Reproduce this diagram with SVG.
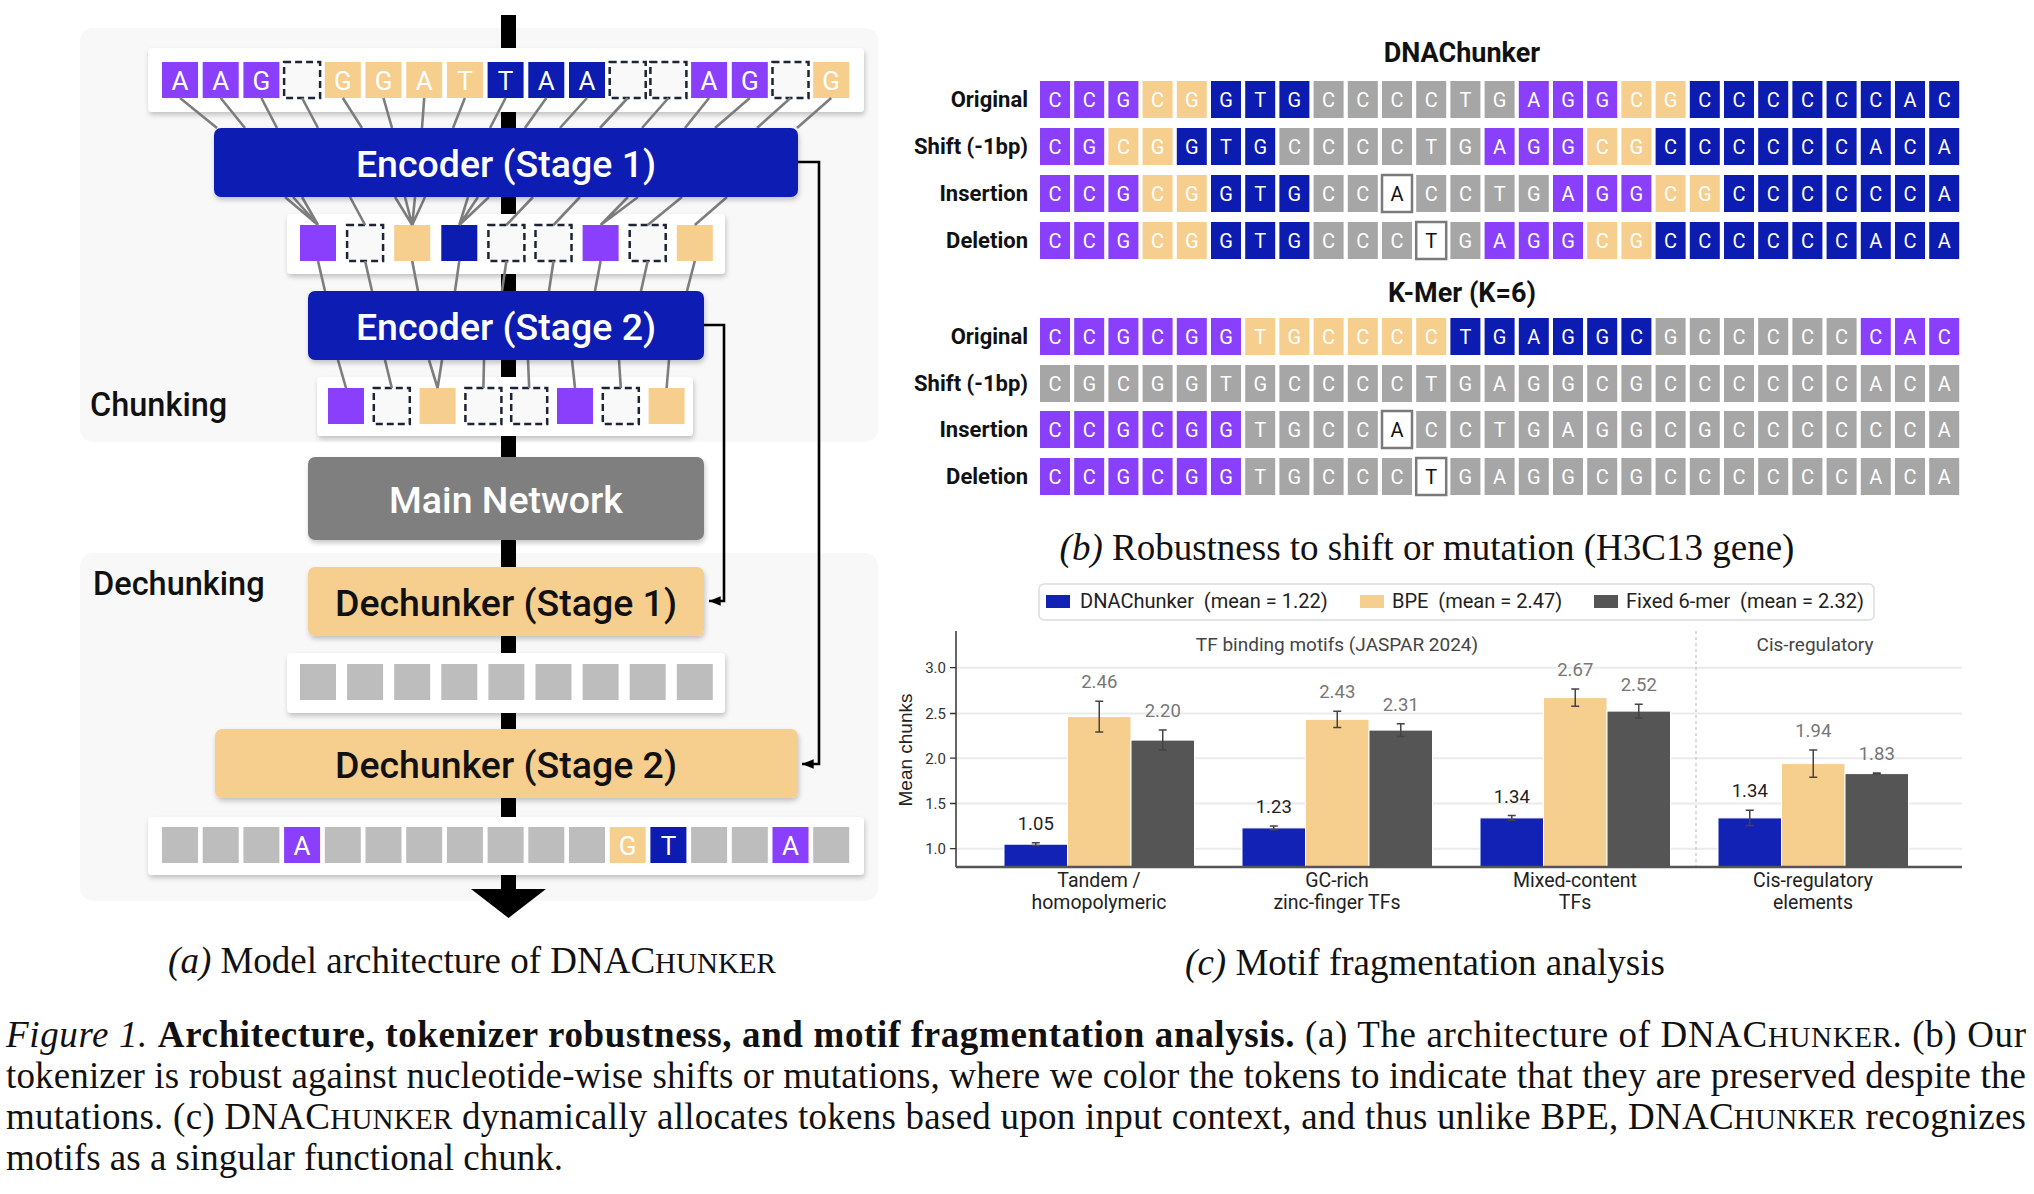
<svg xmlns="http://www.w3.org/2000/svg" width="2034" height="1194" viewBox="0 0 2034 1194">
<defs>
<style>
.sans{font-family:Roboto,"Liberation Sans",sans-serif}
.serif{font-family:"Liberation Serif","Times New Roman",serif}
.bgp{fill:#f8f8f8}
.wbox{fill:#fff;filter:url(#sh)}
.tk rect{width:36px;height:36px}
.p{fill:#8a3ffc}.o{fill:#f6ce8e}.b{fill:#0c1bb0}.g{fill:#a6a6a6}.lg{fill:#bdbdbd}
.d{fill:#f9f9f9;stroke:#1c2436;stroke-width:2.5;stroke-dasharray:7 4}
.w{fill:#fff;stroke:#7a7a7a;stroke-width:2.5}
.enc{fill:#0b1db2;filter:url(#sh)}
.dec{fill:#f6ce8e;filter:url(#sh)}
.mn{fill:#7f7f7f;filter:url(#sh)}
.lk{fill:none;stroke:#7d7d7d;stroke-width:2.6}
.skip{fill:none;stroke:#000;stroke-width:2.6;marker-end:url(#ah)}
.nt{font-size:37.5px;font-weight:500;text-anchor:middle}
.tl{font-size:26px;fill:#fff;text-anchor:middle}
.sec{font-size:32.5px;font-weight:500;fill:#111}
.c rect{width:30px;height:37px}
.ct{font-size:20px;fill:#fff;text-anchor:middle}
.ctb{fill:#111}
.lab{font-size:22px;font-weight:700;text-anchor:end;fill:#111}
.ttl{font-size:27px;font-weight:700;text-anchor:middle;fill:#111}
.cap{font-size:37px;fill:#111}
.tick{font-size:15px;fill:#333;text-anchor:end}
.vl{font-size:18.5px;text-anchor:middle}
.xl{font-size:19.5px;fill:#222;text-anchor:middle}
</style>
<filter id="sh" x="-10%" y="-20%" width="120%" height="160%"><feDropShadow dx="1" dy="3" stdDeviation="2.5" flood-color="#000" flood-opacity="0.22"/></filter>
<marker id="ah" viewBox="0 0 10 10" refX="10" refY="5" markerWidth="4.5" markerHeight="4.5" orient="auto"><path d="M0,1 L10,5 L0,9 z" fill="#000"/></marker>
</defs>
<rect width="2034" height="1194" fill="#fff"/>

<!-- ============ PANEL A ============ -->
<g id="panel-a">
<rect class="bgp" x="80" y="28" width="798" height="414" rx="13"/>
<rect class="bgp" x="80" y="553" width="798" height="348" rx="13"/>
<rect id="spine" x="501" y="15" width="15" height="876" fill="#000"/>
<text class="sans sec" x="90" y="416">Chunking</text>
<text class="sans sec" x="93" y="595">Dechunking</text>

<g id="input-row">
<rect class="wbox" x="148" y="48" width="716" height="64" rx="4"/>
<g class="tk" transform="translate(0,62)">
<rect class="p" x="162"/><rect class="p" x="202.7"/><rect class="p" x="243.4"/><rect class="d" x="284.1"/><rect class="o" x="324.8"/><rect class="o" x="365.5"/><rect class="o" x="406.2"/><rect class="o" x="446.9"/><rect class="b" x="487.6"/><rect class="b" x="528.3"/><rect class="b" x="569"/><rect class="d" x="609.7"/><rect class="d" x="650.4"/><rect class="p" x="691.1"/><rect class="p" x="731.8"/><rect class="d" x="772.5"/><rect class="o" x="813.2"/>
</g>
<text class="sans tl" y="90" x="180 220.7 261.4 342.8 383.5 424.2 464.9 505.6 546.3 587 709.1 749.8 831.2">AAGGGATTAAAGG</text>
</g>

<g id="row2">
<rect class="wbox" x="287" y="214" width="438" height="60" rx="4"/>
<g class="tk" transform="translate(0,225)">
<rect class="p" x="300"/><rect class="d" x="347.1"/><rect class="o" x="394.2"/><rect class="b" x="441.3"/><rect class="d" x="488.4"/><rect class="d" x="535.5"/><rect class="p" x="582.6"/><rect class="d" x="629.7"/><rect class="o" x="676.8"/>
</g>
</g>

<g id="row3">
<rect class="wbox" x="317" y="377" width="376" height="59" rx="4"/>
<g class="tk" transform="translate(0,388)">
<rect class="p" x="328"/><rect class="d" x="373.8"/><rect class="o" x="419.6"/><rect class="d" x="465.4"/><rect class="d" x="511.2"/><rect class="p" x="557"/><rect class="d" x="602.8"/><rect class="o" x="648.6"/>
</g>
</g>

<g id="row-gray">
<rect class="wbox" x="287" y="653" width="438" height="60" rx="4"/>
<g class="tk" transform="translate(0,664)">
<rect class="lg" x="300"/><rect class="lg" x="347.1"/><rect class="lg" x="394.2"/><rect class="lg" x="441.3"/><rect class="lg" x="488.4"/><rect class="lg" x="535.5"/><rect class="lg" x="582.6"/><rect class="lg" x="629.7"/><rect class="lg" x="676.8"/>
</g>
</g>

<g id="output-row">
<rect class="wbox" x="148" y="817" width="716" height="58" rx="4"/>
<g class="tk" transform="translate(0,827)">
<rect class="lg" x="162"/><rect class="lg" x="202.7"/><rect class="lg" x="243.4"/><rect class="p" x="284.1"/><rect class="lg" x="324.8"/><rect class="lg" x="365.5"/><rect class="lg" x="406.2"/><rect class="lg" x="446.9"/><rect class="lg" x="487.6"/><rect class="lg" x="528.3"/><rect class="lg" x="569"/><rect class="o" x="609.7"/><rect class="b" x="650.4"/><rect class="lg" x="691.1"/><rect class="lg" x="731.8"/><rect class="p" x="772.5"/><rect class="lg" x="813.2"/>
</g>
<text class="sans tl" y="855" x="302.1 627.7 668.4 790.5">AGTA</text>
</g>

<g id="connectors">
<path class="lk" d="M180 98L217 128M220.7 98L245 128M261.4 98L277 128M302.1 98L318 128M342.8 98L362 128M383.5 98L392 128M424.2 98L422 128M464.9 98L453 128M505.6 98L490 128M546.3 98L525 128M587 98L560 128M627.7 98L600 128M668.4 98L642 128M709.1 98L685 128M749.8 98L715 128M790.5 98L757 128M831.2 98L797 128"/>
<path class="lk" d="M285 197L318 225M293 197L318 225M302 197L318 225M350 197L365.1 225M395 197L412.2 225M405 197L412.2 225M415 197L412.2 225M425 197L412.2 225M468 197L459.3 225M478 197L459.3 225M489 197L459.3 225M533 197L506.4 225M580 197L553.5 225M628 197L600.6 225M638 197L600.6 225M682 197L647.7 225M727 197L694.8 225"/>
<path class="lk" d="M318 261L325 291M365.1 261L372 291M412.2 261L418 291M459.3 261L455 291M506.4 261L502 291M553.5 261L549 291M600.6 261L595 291M647.7 261L641 291M694.8 261L687 291"/>
<path class="lk" d="M338 360L346 388M385 360L391.8 388M429 360L437.6 388M442 360L437.6 388M484 360L483.4 388M528 360L529.2 388M572 360L575 388M619 360L620.8 388M669 360L666.6 388"/>
<path class="skip" d="M798 162H819V764H802"/>
<path class="skip" d="M704 325H724V601H709"/>
<polygon points="471,889 546,889 508.5,918" fill="#000"/>
</g>

<g id="encoder1"><rect class="enc" x="214" y="128" width="584" height="69" rx="7"/><text class="sans nt" x="506" y="176.5" fill="#fff">Encoder (Stage 1)</text></g>
<g id="encoder2"><rect class="enc" x="308" y="291" width="396" height="69" rx="7"/><text class="sans nt" x="506" y="339.5" fill="#fff">Encoder (Stage 2)</text></g>
<g id="main-network"><rect class="mn" x="308" y="457" width="396" height="83" rx="7"/><text class="sans nt" x="506" y="512.5" fill="#fff">Main Network</text></g>
<g id="dechunker1"><rect class="dec" x="308" y="567" width="396" height="69" rx="7"/><text class="sans nt" x="506" y="615.5" fill="#111">Dechunker (Stage 1)</text></g>
<g id="dechunker2"><rect class="dec" x="215" y="729" width="583" height="69" rx="7"/><text class="sans nt" x="506" y="777.5" fill="#111">Dechunker (Stage 2)</text></g>
</g>

<!-- ============ PANEL B ============ -->
<g id="panel-b" class="sans">
<text class="ttl" x="1462" y="62">DNAChunker</text>
<g class="lab">
<text x="1028" y="107">Original</text>
<text x="1028" y="154">Shift (-1bp)</text>
<text x="1028" y="201">Insertion</text>
<text x="1028" y="248">Deletion</text>
</g>
<g id="dna-original" class="c" transform="translate(0,81)">
<rect class="p" x="1040"/><rect class="p" x="1074.2"/><rect class="p" x="1108.4"/><rect class="o" x="1142.6"/><rect class="o" x="1176.8"/><rect class="b" x="1211"/><rect class="b" x="1245.2"/><rect class="b" x="1279.4"/><rect class="g" x="1313.6"/><rect class="g" x="1347.8"/><rect class="g" x="1382"/><rect class="g" x="1416.2"/><rect class="g" x="1450.4"/><rect class="g" x="1484.6"/><rect class="p" x="1518.8"/><rect class="p" x="1553"/><rect class="p" x="1587.2"/><rect class="o" x="1621.4"/><rect class="o" x="1655.6"/><rect class="b" x="1689.8"/><rect class="b" x="1724"/><rect class="b" x="1758.2"/><rect class="b" x="1792.4"/><rect class="b" x="1826.6"/><rect class="b" x="1860.8"/><rect class="b" x="1895"/><rect class="b" x="1929.2"/>
</g>
<g id="dna-shift" class="c" transform="translate(0,128)">
<rect class="p" x="1040"/><rect class="p" x="1074.2"/><rect class="o" x="1108.4"/><rect class="o" x="1142.6"/><rect class="b" x="1176.8"/><rect class="b" x="1211"/><rect class="b" x="1245.2"/><rect class="g" x="1279.4"/><rect class="g" x="1313.6"/><rect class="g" x="1347.8"/><rect class="g" x="1382"/><rect class="g" x="1416.2"/><rect class="g" x="1450.4"/><rect class="p" x="1484.6"/><rect class="p" x="1518.8"/><rect class="p" x="1553"/><rect class="o" x="1587.2"/><rect class="o" x="1621.4"/><rect class="b" x="1655.6"/><rect class="b" x="1689.8"/><rect class="b" x="1724"/><rect class="b" x="1758.2"/><rect class="b" x="1792.4"/><rect class="b" x="1826.6"/><rect class="b" x="1860.8"/><rect class="b" x="1895"/><rect class="b" x="1929.2"/>
</g>
<g id="dna-insertion" class="c" transform="translate(0,175)">
<rect class="p" x="1040"/><rect class="p" x="1074.2"/><rect class="p" x="1108.4"/><rect class="o" x="1142.6"/><rect class="o" x="1176.8"/><rect class="b" x="1211"/><rect class="b" x="1245.2"/><rect class="b" x="1279.4"/><rect class="g" x="1313.6"/><rect class="g" x="1347.8"/><rect class="w" x="1382"/><rect class="g" x="1416.2"/><rect class="g" x="1450.4"/><rect class="g" x="1484.6"/><rect class="g" x="1518.8"/><rect class="p" x="1553"/><rect class="p" x="1587.2"/><rect class="p" x="1621.4"/><rect class="o" x="1655.6"/><rect class="o" x="1689.8"/><rect class="b" x="1724"/><rect class="b" x="1758.2"/><rect class="b" x="1792.4"/><rect class="b" x="1826.6"/><rect class="b" x="1860.8"/><rect class="b" x="1895"/><rect class="b" x="1929.2"/>
</g>
<g id="dna-deletion" class="c" transform="translate(0,222)">
<rect class="p" x="1040"/><rect class="p" x="1074.2"/><rect class="p" x="1108.4"/><rect class="o" x="1142.6"/><rect class="o" x="1176.8"/><rect class="b" x="1211"/><rect class="b" x="1245.2"/><rect class="b" x="1279.4"/><rect class="g" x="1313.6"/><rect class="g" x="1347.8"/><rect class="g" x="1382"/><rect class="w" x="1416.2"/><rect class="g" x="1450.4"/><rect class="p" x="1484.6"/><rect class="p" x="1518.8"/><rect class="p" x="1553"/><rect class="o" x="1587.2"/><rect class="o" x="1621.4"/><rect class="b" x="1655.6"/><rect class="b" x="1689.8"/><rect class="b" x="1724"/><rect class="b" x="1758.2"/><rect class="b" x="1792.4"/><rect class="b" x="1826.6"/><rect class="b" x="1860.8"/><rect class="b" x="1895"/><rect class="b" x="1929.2"/>
</g>
<text class="ct" y="106.5" x="1055 1089.2 1123.4 1157.6 1191.8 1226 1260.2 1294.4 1328.6 1362.8 1397 1431.2 1465.4 1499.6 1533.8 1568 1602.2 1636.4 1670.6 1704.8 1739 1773.2 1807.4 1841.6 1875.8 1910 1944.2">CCGCGGTGCCCCTGAGGCGCCCCCCAC</text>
<text class="ct" y="153.5" x="1055 1089.2 1123.4 1157.6 1191.8 1226 1260.2 1294.4 1328.6 1362.8 1397 1431.2 1465.4 1499.6 1533.8 1568 1602.2 1636.4 1670.6 1704.8 1739 1773.2 1807.4 1841.6 1875.8 1910 1944.2">CGCGGTGCCCCTGAGGCGCCCCCCACA</text>
<text class="ct" y="200.5"><tspan x="1055 1089.2 1123.4 1157.6 1191.8 1226 1260.2 1294.4 1328.6 1362.8">CCGCGGTGCC</tspan><tspan class="ctb" x="1397">A</tspan><tspan x="1431.2 1465.4 1499.6 1533.8 1568 1602.2 1636.4 1670.6 1704.8 1739 1773.2 1807.4 1841.6 1875.8 1910 1944.2">CCTGAGGCGCCCCCCA</tspan></text>
<text class="ct" y="247.5"><tspan x="1055 1089.2 1123.4 1157.6 1191.8 1226 1260.2 1294.4 1328.6 1362.8 1397">CCGCGGTGCCC</tspan><tspan class="ctb" x="1431.2">T</tspan><tspan x="1465.4 1499.6 1533.8 1568 1602.2 1636.4 1670.6 1704.8 1739 1773.2 1807.4 1841.6 1875.8 1910 1944.2">GAGGCGCCCCCCACA</tspan></text>

<text class="ttl" x="1462" y="302">K-Mer (K=6)</text>
<g class="lab">
<text x="1028" y="344">Original</text>
<text x="1028" y="391">Shift (-1bp)</text>
<text x="1028" y="437">Insertion</text>
<text x="1028" y="484">Deletion</text>
</g>
<g id="kmer-original" class="c" transform="translate(0,318)">
<rect class="p" x="1040"/><rect class="p" x="1074.2"/><rect class="p" x="1108.4"/><rect class="p" x="1142.6"/><rect class="p" x="1176.8"/><rect class="p" x="1211"/><rect class="o" x="1245.2"/><rect class="o" x="1279.4"/><rect class="o" x="1313.6"/><rect class="o" x="1347.8"/><rect class="o" x="1382"/><rect class="o" x="1416.2"/><rect class="b" x="1450.4"/><rect class="b" x="1484.6"/><rect class="b" x="1518.8"/><rect class="b" x="1553"/><rect class="b" x="1587.2"/><rect class="b" x="1621.4"/><rect class="g" x="1655.6"/><rect class="g" x="1689.8"/><rect class="g" x="1724"/><rect class="g" x="1758.2"/><rect class="g" x="1792.4"/><rect class="g" x="1826.6"/><rect class="p" x="1860.8"/><rect class="p" x="1895"/><rect class="p" x="1929.2"/>
</g>
<g id="kmer-shift" class="c" transform="translate(0,365)">
<rect class="g" x="1040"/><rect class="g" x="1074.2"/><rect class="g" x="1108.4"/><rect class="g" x="1142.6"/><rect class="g" x="1176.8"/><rect class="g" x="1211"/><rect class="g" x="1245.2"/><rect class="g" x="1279.4"/><rect class="g" x="1313.6"/><rect class="g" x="1347.8"/><rect class="g" x="1382"/><rect class="g" x="1416.2"/><rect class="g" x="1450.4"/><rect class="g" x="1484.6"/><rect class="g" x="1518.8"/><rect class="g" x="1553"/><rect class="g" x="1587.2"/><rect class="g" x="1621.4"/><rect class="g" x="1655.6"/><rect class="g" x="1689.8"/><rect class="g" x="1724"/><rect class="g" x="1758.2"/><rect class="g" x="1792.4"/><rect class="g" x="1826.6"/><rect class="g" x="1860.8"/><rect class="g" x="1895"/><rect class="g" x="1929.2"/>
</g>
<g id="kmer-insertion" class="c" transform="translate(0,411)">
<rect class="p" x="1040"/><rect class="p" x="1074.2"/><rect class="p" x="1108.4"/><rect class="p" x="1142.6"/><rect class="p" x="1176.8"/><rect class="p" x="1211"/><rect class="g" x="1245.2"/><rect class="g" x="1279.4"/><rect class="g" x="1313.6"/><rect class="g" x="1347.8"/><rect class="w" x="1382"/><rect class="g" x="1416.2"/><rect class="g" x="1450.4"/><rect class="g" x="1484.6"/><rect class="g" x="1518.8"/><rect class="g" x="1553"/><rect class="g" x="1587.2"/><rect class="g" x="1621.4"/><rect class="g" x="1655.6"/><rect class="g" x="1689.8"/><rect class="g" x="1724"/><rect class="g" x="1758.2"/><rect class="g" x="1792.4"/><rect class="g" x="1826.6"/><rect class="g" x="1860.8"/><rect class="g" x="1895"/><rect class="g" x="1929.2"/>
</g>
<g id="kmer-deletion" class="c" transform="translate(0,458)">
<rect class="p" x="1040"/><rect class="p" x="1074.2"/><rect class="p" x="1108.4"/><rect class="p" x="1142.6"/><rect class="p" x="1176.8"/><rect class="p" x="1211"/><rect class="g" x="1245.2"/><rect class="g" x="1279.4"/><rect class="g" x="1313.6"/><rect class="g" x="1347.8"/><rect class="g" x="1382"/><rect class="w" x="1416.2"/><rect class="g" x="1450.4"/><rect class="g" x="1484.6"/><rect class="g" x="1518.8"/><rect class="g" x="1553"/><rect class="g" x="1587.2"/><rect class="g" x="1621.4"/><rect class="g" x="1655.6"/><rect class="g" x="1689.8"/><rect class="g" x="1724"/><rect class="g" x="1758.2"/><rect class="g" x="1792.4"/><rect class="g" x="1826.6"/><rect class="g" x="1860.8"/><rect class="g" x="1895"/><rect class="g" x="1929.2"/>
</g>
<text class="ct" y="343.5" x="1055 1089.2 1123.4 1157.6 1191.8 1226 1260.2 1294.4 1328.6 1362.8 1397 1431.2 1465.4 1499.6 1533.8 1568 1602.2 1636.4 1670.6 1704.8 1739 1773.2 1807.4 1841.6 1875.8 1910 1944.2">CCGCGGTGCCCCTGAGGCGCCCCCCAC</text>
<text class="ct" y="390.5" x="1055 1089.2 1123.4 1157.6 1191.8 1226 1260.2 1294.4 1328.6 1362.8 1397 1431.2 1465.4 1499.6 1533.8 1568 1602.2 1636.4 1670.6 1704.8 1739 1773.2 1807.4 1841.6 1875.8 1910 1944.2">CGCGGTGCCCCTGAGGCGCCCCCCACA</text>
<text class="ct" y="436.5"><tspan x="1055 1089.2 1123.4 1157.6 1191.8 1226 1260.2 1294.4 1328.6 1362.8">CCGCGGTGCC</tspan><tspan class="ctb" x="1397">A</tspan><tspan x="1431.2 1465.4 1499.6 1533.8 1568 1602.2 1636.4 1670.6 1704.8 1739 1773.2 1807.4 1841.6 1875.8 1910 1944.2">CCTGAGGCGCCCCCCA</tspan></text>
<text class="ct" y="483.5"><tspan x="1055 1089.2 1123.4 1157.6 1191.8 1226 1260.2 1294.4 1328.6 1362.8 1397">CCGCGGTGCCC</tspan><tspan class="ctb" x="1431.2">T</tspan><tspan x="1465.4 1499.6 1533.8 1568 1602.2 1636.4 1670.6 1704.8 1739 1773.2 1807.4 1841.6 1875.8 1910 1944.2">GAGGCGCCCCCCACA</tspan></text>
</g>

<!-- ============ PANEL C ============ -->
<g id="panel-c" class="sans">
<g id="legend">
<rect x="1039" y="584" width="835" height="36" rx="5" fill="#fff" stroke="#dcdcdc" stroke-width="1.5"/>
<rect x="1046" y="595" width="24" height="13" fill="#1222b5"/>
<rect x="1360" y="595" width="24" height="13" fill="#f6ce8e"/>
<rect x="1594" y="595" width="24" height="13" fill="#555"/>
<g font-size="20" fill="#222">
<text x="1080" y="608" xml:space="preserve">DNAChunker  (mean = 1.22)</text>
<text x="1392" y="608" xml:space="preserve">BPE  (mean = 2.47)</text>
<text x="1626" y="608" xml:space="preserve">Fixed 6-mer  (mean = 2.32)</text>
</g>
</g>
<g id="grid" stroke="#ebebeb" stroke-width="2">
<path d="M956 667.7H1962M956 713.5H1962M956 758.2H1962M956 803.5H1962M956 848.7H1962"/>
</g>
<path d="M1696 631V867" stroke="#c4c4c4" stroke-width="1.2" stroke-dasharray="3 3"/>
<g id="ticks">
<path d="M950 667.7H956M950 713.5H956M950 758.2H956M950 803.5H956M950 848.7H956" stroke="#333" stroke-width="1.3"/>
<text class="tick" x="946" y="673">3.0</text>
<text class="tick" x="946" y="718.5">2.5</text>
<text class="tick" x="946" y="763.5">2.0</text>
<text class="tick" x="946" y="808.5">1.5</text>
<text class="tick" x="946" y="854">1.0</text>
</g>
<text x="912" y="750" font-size="19" fill="#222" text-anchor="middle" transform="rotate(-90 912 750)" font-family="'Liberation Sans',Arial,sans-serif">Mean chunks</text>
<text x="1337" y="651" font-size="19" fill="#444" text-anchor="middle">TF binding motifs (JASPAR 2024)</text>
<text x="1815" y="651" font-size="19" fill="#444" text-anchor="middle">Cis-regulatory</text>
<g id="bars" stroke="#fff" stroke-width="1">
<g fill="#1222b5">
<rect x="1004" y="844.2" width="63.5" height="22.8"/>
<rect x="1242" y="827.9" width="63.5" height="39.1"/>
<rect x="1480" y="817.9" width="63.5" height="49.1"/>
<rect x="1718" y="817.9" width="63.5" height="49.1"/>
</g>
<g fill="#f6ce8e">
<rect x="1067.5" y="716.6" width="63.5" height="150.4"/>
<rect x="1305.5" y="719.3" width="63.5" height="147.7"/>
<rect x="1543.5" y="697.6" width="63.5" height="169.4"/>
<rect x="1781.5" y="763.6" width="63.5" height="103.4"/>
</g>
<g fill="#555">
<rect x="1131" y="740.1" width="63.5" height="126.9"/>
<rect x="1369" y="730.1" width="63.5" height="136.9"/>
<rect x="1607" y="711.1" width="63.5" height="155.9"/>
<rect x="1845" y="773.6" width="63.5" height="93.4"/>
</g>
</g>
<path id="errbars" fill="none" stroke="#444" stroke-width="1.5" d="M1035.75 842.8V845.6M1031.75 842.8h8M1031.75 845.6h8M1099.25 701.2V732M1095.25 701.2h8M1095.25 732h8M1162.75 730.1V750.1M1158.75 730.1h8M1158.75 750.1h8M1273.75 826.1V829.7M1269.75 826.1h8M1269.75 829.7h8M1337.25 711.2V727.4M1333.25 711.2h8M1333.25 727.4h8M1400.75 723.8V736.4M1396.75 723.8h8M1396.75 736.4h8M1511.75 815.6V820.2M1507.75 815.6h8M1507.75 820.2h8M1575.25 689V706.2M1571.25 689h8M1571.25 706.2h8M1638.75 704.3V717.9M1634.75 704.3h8M1634.75 717.9h8M1749.75 810.2V825.6M1745.75 810.2h8M1745.75 825.6h8M1813.25 750V777.2M1809.25 750h8M1809.25 777.2h8M1876.75 773.1V774.1M1872.75 773.1h8M1872.75 774.1h8"/>
<path d="M956 631V867" stroke="#333" stroke-width="1.5"/>
<path d="M956 867H1962" stroke="#555" stroke-width="2.5"/>
<g id="values" class="vl">
<g fill="#222">
<text x="1035.75" y="829.8">1.05</text>
<text x="1273.75" y="813.1">1.23</text>
<text x="1511.75" y="802.6">1.34</text>
<text x="1749.75" y="797.2">1.34</text>
</g>
<g fill="#777">
<text x="1099.25" y="688.2">2.46</text>
<text x="1162.75" y="717.1">2.20</text>
<text x="1337.25" y="698.2">2.43</text>
<text x="1400.75" y="710.8">2.31</text>
<text x="1575.25" y="676">2.67</text>
<text x="1638.75" y="691.3">2.52</text>
<text x="1813.25" y="737">1.94</text>
<text x="1876.75" y="760">1.83</text>
</g>
</g>
<g id="xlabels" class="xl">
<text x="1099" y="887">Tandem /</text><text x="1099" y="909">homopolymeric</text>
<text x="1337" y="887">GC-rich</text><text x="1337" y="909">zinc-finger TFs</text>
<text x="1575" y="887">Mixed-content</text><text x="1575" y="909">TFs</text>
<text x="1813" y="887">Cis-regulatory</text><text x="1813" y="909">elements</text>
</g>
</g>

<!-- ============ CAPTIONS ============ -->
<g id="captions" class="serif cap">
<text x="472" y="973" text-anchor="middle"><tspan font-style="italic">(a)</tspan> Model architecture of DNAC<tspan font-size="29">HUNKER</tspan></text>
<text x="1427" y="560" text-anchor="middle"><tspan font-style="italic">(b)</tspan> Robustness to shift or mutation (H3C13 gene)</text>
<text x="1425" y="975" text-anchor="middle"><tspan font-style="italic">(c)</tspan> Motif fragmentation analysis</text>
<text x="6" y="1047" textLength="2020" lengthAdjust="spacing"><tspan font-style="italic">Figure 1.</tspan> <tspan font-weight="bold">Architecture, tokenizer robustness, and motif fragmentation analysis.</tspan> (a) The architecture of DNAC<tspan font-size="29">HUNKER</tspan>. (b) Our</text>
<text x="6" y="1088" textLength="2020" lengthAdjust="spacing">tokenizer is robust against nucleotide-wise shifts or mutations, where we color the tokens to indicate that they are preserved despite the</text>
<text x="6" y="1129" textLength="2020" lengthAdjust="spacing">mutations. (c) DNAC<tspan font-size="29">HUNKER</tspan> dynamically allocates tokens based upon input context, and thus unlike BPE, DNAC<tspan font-size="29">HUNKER</tspan> recognizes</text>
<text x="6" y="1170">motifs as a singular functional chunk.</text>
</g>
</svg>
